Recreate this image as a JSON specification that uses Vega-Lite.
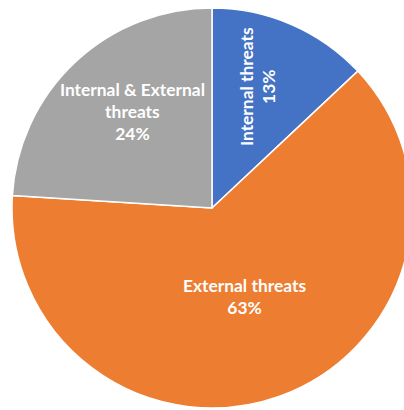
{
  "$schema": "https://vega.github.io/schema/vega-lite/v6.json",
  "autosize": "none",
  "width": 384,
  "height": 404,
  "padding": {"left": 20, "top": 6, "right": 0, "bottom": 0},
  "background": "white",
  "data": {
    "values": [
      {"cat": "Internal threats", "pct": 13, "rank": 1, "label": "Internal threats\n13%"},
      {"cat": "External threats", "pct": 63, "rank": 2, "label": "External threats\n63%"},
      {"cat": "Internal & External threats", "pct": 24, "rank": 3, "label": "Internal & External\nthreats\n24%"}
    ]
  },
  "encoding": {
    "theta": {"field": "pct", "type": "quantitative", "stack": true},
    "order": {"field": "rank", "type": "quantitative"}
  },
  "layer": [
    {
      "mark": {"type": "arc", "outerRadius": 200, "stroke": "#ffffff", "strokeWidth": 1.5},
      "encoding": {
        "color": {
          "field": "cat",
          "type": "nominal",
          "scale": {
            "domain": ["Internal threats", "External threats", "Internal & External threats"],
            "range": ["#4472C4", "#ED7D31", "#A5A5A5"]
          },
          "legend": null
        }
      }
    },
    {
      "mark": {"type": "text", "radius": 130, "angle": 270, "dx": 2, "dy": -16, "font": "Lato", "fontWeight": "bold", "fontSize": 17.4, "fill": "white", "lineBreak": "\n", "lineHeight": 22.5, "align": "center", "baseline": "middle"},
      "encoding": {
        "text": {"condition": {"test": "datum.cat === 'Internal threats'", "field": "label"}, "value": ""}
      }
    },
    {
      "mark": {"type": "text", "radius": 96, "dy": -11, "font": "Lato", "fontWeight": "bold", "fontSize": 17.4, "fill": "white", "lineBreak": "\n", "lineHeight": 22, "align": "center", "baseline": "middle"},
      "encoding": {
        "text": {"condition": {"test": "datum.cat === 'External threats'", "field": "label"}, "value": ""}
      }
    },
    {
      "mark": {"type": "text", "radius": 125, "dx": 6, "dy": -26, "font": "Lato", "fontWeight": "bold", "fontSize": 17.4, "fill": "white", "lineBreak": "\n", "lineHeight": 22, "align": "center", "baseline": "middle"},
      "encoding": {
        "text": {"condition": {"test": "datum.cat === 'Internal & External threats'", "field": "label"}, "value": ""}
      }
    }
  ]
}
